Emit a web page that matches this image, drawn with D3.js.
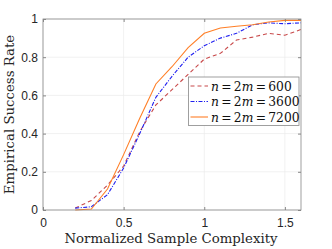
<!DOCTYPE html>
<html>
<head>
<meta charset="utf-8">
<script src="https://cdn.jsdelivr.net/npm/d3@7"></script>
<style>
  body { margin: 0; background: #fff; }
  .tick text { font-family: "Liberation Sans", Arial, sans-serif; font-size: 12px; fill: #262626; }
  .serif { font-family: "DejaVu Serif", "Liberation Serif", serif; }
</style>
</head>
<body>
<div class="chart"></div>
<script>
// chart data
var complexity = [0.2, 0.3, 0.4, 0.5, 0.6, 0.7, 0.8, 0.9, 1.0, 1.1, 1.2, 1.3, 1.4, 1.5, 1.6];
var rate600  = [0.01, 0.05, 0.13, 0.23, 0.41, 0.55, 0.63, 0.71, 0.79, 0.82, 0.89, 0.905, 0.925, 0.915, 0.945];
var rate3600 = [0.01, 0.017, 0.08, 0.22, 0.40, 0.59, 0.70, 0.80, 0.86, 0.90, 0.925, 0.97, 0.98, 0.975, 0.98];
var rate7200 = [0.0, 0.005, 0.11, 0.29, 0.48, 0.66, 0.75, 0.85, 0.925, 0.953, 0.962, 0.97, 0.984, 0.993, 0.993];
var seriesNames = ["600", "3600", "7200"];
var xTicks = [0, 0.5, 1, 1.5];
var yTicks = [0, 0.2, 0.4, 0.6, 0.8, 1];

var svgWidth = 332, svgHeight = 249;
var margin = {top: 19, right: 31, bottom: 39, left: 43};
var width = svgWidth - margin.left - margin.right;
var height = svgHeight - margin.top - margin.bottom;

var svg = d3.select(".chart").append("svg")
  .attr("width", svgWidth).attr("height", svgHeight);
var chart = svg.append("g")
  .attr("transform", "translate(" + margin.left + "," + margin.top + ")");

var x = d3.scaleLinear().domain([0, 1.6]).range([0, width]);
var y = d3.scaleLinear().domain([0, 1]).range([height, 0]);

// grid
chart.append("g").selectAll("line").data(xTicks).enter().append("line")
  .attr("x1", d => x(d)).attr("x2", d => x(d))
  .attr("y1", 0).attr("y2", height)
  .attr("stroke", "#ebebeb").attr("stroke-width", 0.7);
chart.append("g").selectAll("line").data(yTicks).enter().append("line")
  .attr("x1", 0).attr("x2", width)
  .attr("y1", d => y(d)).attr("y2", d => y(d))
  .attr("stroke", "#ebebeb").attr("stroke-width", 0.7);

// lines
var styles = [
  {data: rate600, color: "#c8494a", dash: "4,3"},
  {data: rate3600, color: "#2020f0", dash: "4,1.5,1,1.5"},
  {data: rate7200, color: "#ff7f27", dash: null}
];
var line = d3.line().x(d => x(d[0])).y(d => y(d[1]));
styles.forEach(function(s) {
  chart.append("path")
    .datum(complexity.map((c, i) => [c, s.data[i]]))
    .attr("d", line)
    .attr("fill", "none")
    .attr("stroke", s.color)
    .attr("stroke-width", 1.1)
    .attr("stroke-dasharray", s.dash);
});

// axes
var bottomAxis = d3.axisBottom(x).tickValues(xTicks).tickSize(-3).tickPadding(8).tickFormat(d3.format("~g"));
var leftAxis = d3.axisLeft(y).tickValues(yTicks).tickSize(-3).tickPadding(5).tickFormat(d3.format("~g"));
chart.append("g").attr("transform", "translate(0," + height + ")").call(bottomAxis);
chart.append("g").call(leftAxis);
chart.append("g").call(d3.axisTop(x).tickValues(xTicks).tickSize(-3).tickFormat(""));
chart.append("g").attr("transform", "translate(" + width + ",0)")
  .call(d3.axisRight(y).tickValues(yTicks).tickSize(-3).tickFormat(""));
chart.selectAll(".tick line").attr("stroke", "#888");
chart.selectAll(".domain").remove();
chart.append("rect").attr("width", width).attr("height", height)
  .attr("fill", "none").attr("stroke", "#888").attr("stroke-width", 0.8);

// axis labels
svg.append("text").attr("class", "serif")
  .attr("x", margin.left + width / 2 - 1).attr("y", 243)
  .attr("text-anchor", "middle")
  .style("font-size", "13.3px")
  .attr("fill", "#262626")
  .text("Normalized Sample Complexity");
svg.append("text").attr("class", "serif")
  .attr("transform", "translate(14," + (margin.top + height / 2) + ") rotate(-90)")
  .attr("text-anchor", "middle")
  .style("font-size", "13.3px")
  .attr("fill", "#262626")
  .text("Empirical Success Rate");

// legend
var legend = svg.append("g").attr("transform", "translate(188.5,77)");
legend.append("rect").attr("width", 110.5).attr("height", 48.5)
  .attr("fill", "#fff").attr("stroke", "#888").attr("stroke-width", 0.8);
styles.forEach(function(s, i) {
  var ly = 9 + i * 15.5;
  legend.append("line").attr("x1", 2).attr("x2", 19.5).attr("y1", ly).attr("y2", ly)
    .attr("stroke", s.color).attr("stroke-width", 1.1).attr("stroke-dasharray", s.dash);
  var t = legend.append("text").attr("class", "serif").attr("x", 22.5).attr("y", ly + 4.5)
    .style("font-size", "12.3px")
    .attr("fill", "#111");
  t.append("tspan").style("font-style", "italic").text("n");
  t.append("tspan").attr("dx", 2.3).text("=");
  t.append("tspan").attr("dx", 2.3).text("2");
  t.append("tspan").style("font-style", "italic").text("m");
  t.append("tspan").attr("dx", 2.3).text("=");
  t.append("tspan").attr("dx", 2.3).text(seriesNames[i]);
});
</script>
</body>
</html>
